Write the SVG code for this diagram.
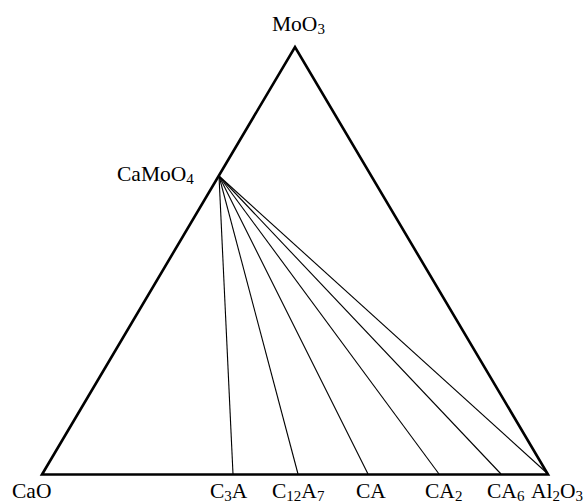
<svg xmlns="http://www.w3.org/2000/svg" width="588" height="504" viewBox="0 0 588 504">
<style>
text{font-family:"Liberation Serif","Times New Roman",serif;font-size:21.5px;fill:#000}
.s{font-size:15px}
.tri{fill:none;stroke:#000;stroke-width:2.6;stroke-linejoin:miter}
.tie{stroke:#000;stroke-width:1.1;fill:none}
</style>
<rect width="588" height="504" fill="#fff"/>
<g id="connectors">
<line class="tie" x1="219" y1="176" x2="233" y2="474"/>
<line class="tie" x1="219" y1="176" x2="298" y2="474"/>
<line class="tie" x1="219" y1="176" x2="368" y2="474"/>
<line class="tie" x1="219" y1="176" x2="439" y2="474"/>
<line class="tie" x1="219" y1="176" x2="501" y2="474"/>
<line class="tie" x1="219" y1="176" x2="548" y2="474"/>
</g>
<g id="triangle">
<polygon class="tri" points="42,474.5 295,47 548,474.5"/>
</g>
<g id="MoO3"><text x="272" y="31">MoO<tspan class="s" dy="3">3</tspan></text></g>
<g id="CaMoO4"><text x="117" y="181">CaMoO<tspan class="s" dy="3">4</tspan></text></g>
<g id="CaO"><text x="12" y="498">CaO</text></g>
<g id="C3A"><text x="210" y="498">C<tspan class="s" dy="2.5">3</tspan><tspan dy="-2.5">A</tspan></text></g>
<g id="C12A7"><text x="272" y="498">C<tspan class="s" dy="2.5">12</tspan><tspan dy="-2.5">A</tspan><tspan class="s" dy="2.5">7</tspan></text></g>
<g id="CA"><text x="356" y="498">CA</text></g>
<g id="CA2"><text x="425" y="498">CA<tspan class="s" dy="2.5">2</tspan></text></g>
<g id="CA6"><text x="487" y="498">CA<tspan class="s" dy="2.5">6</tspan></text></g>
<g id="Al2O3"><text x="531" y="498">Al<tspan class="s" dy="2.5">2</tspan><tspan dy="-2.5">O</tspan><tspan class="s" dy="2.5">3</tspan></text></g>
</svg>
